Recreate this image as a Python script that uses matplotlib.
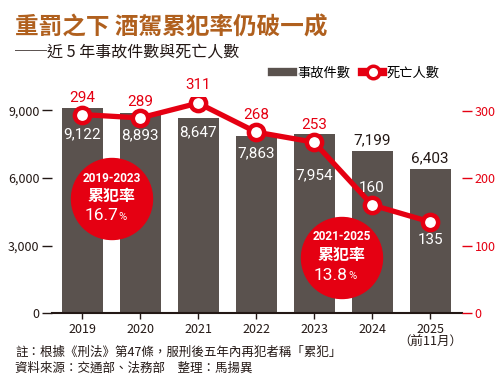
import matplotlib.pyplot as plt
from matplotlib.lines import Line2D
from matplotlib.patches import Ellipse

plt.rcParams['font.family'] = ['Noto Sans CJK TC', 'DejaVu Sans']

years = ['2019', '2020', '2021', '2022', '2023', '2024', '2025\n（前11月）']
accidents = [9122, 8893, 8647, 7863, 7954, 7199, 6403]
deaths = [294, 289, 311, 268, 253, 160, 135]

# label placement (pixels, + is up) and colours
acc_off = [-27, -22, -14, -17, -41, 11, 11]
acc_col = ['white'] * 5 + ['#231815'] * 2
death_off = [17, 16, 18, 17, 17, 17, -18]
death_col = ['#e50012'] * 5 + ['white'] * 2

BAR = '#5a524e'
RED = '#e50012'
DARK = '#231815'

fig = plt.figure(figsize=(5, 3.92), dpi=100)
ax = fig.add_axes([52 / 500, 79 / 392, 410 / 500, 216 / 392])
ax2 = ax.twinx()

x = list(range(len(years)))
ax.bar(x, accidents, width=0.71, color=BAR, zorder=2)
ax.set_xlim(-0.52, 6.55)
ax.set_ylim(0, 9600)
ax.set_yticks([0, 3000, 6000, 9000])
ax.set_yticklabels(['0', '3,000', '6,000', '9,000'])
ax.set_xticks(x)
ax.set_xticklabels(years, fontsize=9, color=DARK, linespacing=1.0)
ax.tick_params(axis='y', length=7, width=1, color=DARK, labelsize=9, labelcolor=DARK, pad=2)
ax.tick_params(axis='x', length=4, width=1, color=DARK, pad=3)
for s in ['top', 'left', 'right']:
    ax.spines[s].set_visible(False)
ax.spines['bottom'].set_linewidth(1.5)
ax.spines['bottom'].set_color(DARK)

ax2.plot(x, deaths, color=RED, lw=3.8, marker='o', ms=11, mfc='white',
         mec=RED, mew=3.2, zorder=3)
ax2.set_ylim(0, 320)
ax2.set_yticks([0, 100, 200, 300])
ax2.tick_params(axis='y', length=7, width=1, color=RED, labelsize=9, labelcolor=RED, pad=2)
for s in ['top', 'left', 'right', 'bottom']:
    ax2.spines[s].set_visible(False)

for i in x:
    ax.annotate(f'{accidents[i]:,}', (i, accidents[i]), xytext=(0, acc_off[i]),
                textcoords='offset pixels', ha='center', va='center',
                fontsize=11, color=acc_col[i], family='Roboto', zorder=4)
    ax2.annotate(str(deaths[i]), (i, deaths[i]), xytext=(0, death_off[i]),
                 textcoords='offset pixels', ha='center', va='center',
                 fontsize=11, color=death_col[i], family='Roboto',
                 annotation_clip=False, zorder=5)

# recidivism bubbles
for cx, cy, period, rate in [(112, 199, '2019-2023', '16.7'),
                             (342, 258, '2021-2025', '13.8')]:
    fig.patches.append(Ellipse((cx / 500, 1 - cy / 392), 81 / 500, 81 / 392,
                               transform=fig.transFigure, color=RED, zorder=10))
    fig.text(cx / 500, 1 - (cy - 21) / 392, period, ha='center', va='center',
             color='white', fontsize=8.5, fontweight='bold', family='Roboto', zorder=11)
    fig.text(cx / 500, 1 - (cy - 3) / 392, '累犯率', ha='center', va='center',
             color='white', fontsize=11.5, fontweight='bold', zorder=11)
    fig.text((cx + 6) / 500, 1 - (cy + 17) / 392, rate, ha='right', va='center',
             color='white', fontsize=12.5, family='Roboto', zorder=11)
    fig.text((cx + 6) / 500, 1 - (cy + 18) / 392, '%', ha='left', va='center',
             color='white', fontsize=8, family='Roboto', zorder=11)

fig.text(15 / 500, 1 - 28 / 392, '重罰之下 酒駕累犯率仍破一成', ha='left', va='center',
         fontsize=17, fontweight='bold', color='#b0601e')
fig.text(15 / 500, 1 - 52 / 392, '──近 5 年事故件數與死亡人數', ha='left', va='center',
         fontsize=11.5, color=DARK)

handles = [Line2D([], [], color=BAR, lw=6),
           Line2D([], [], color=RED, lw=6, marker='o', ms=9, mfc='white', mec=RED, mew=2.5)]
fig.legend(handles, ['事故件數', '死亡人數'], loc='center left',
           bbox_to_anchor=(272 / 500, 1 - 73 / 392), ncol=2, frameon=False,
           fontsize=9.5, handlelength=1.6, handletextpad=0.3, columnspacing=0.9,
           borderaxespad=0, borderpad=0)

fig.text(15 / 500, 1 - 352 / 392, '註：根據《刑法》第47條，服刑後五年內再犯者稱「累犯」',
         ha='left', va='center', fontsize=9, color=DARK)
fig.text(15 / 500, 1 - 368 / 392, '資料來源：交通部、法務部　整理：馬揚異',
         ha='left', va='center', fontsize=9, color=DARK)

fig.savefig('out.png', dpi=100)
